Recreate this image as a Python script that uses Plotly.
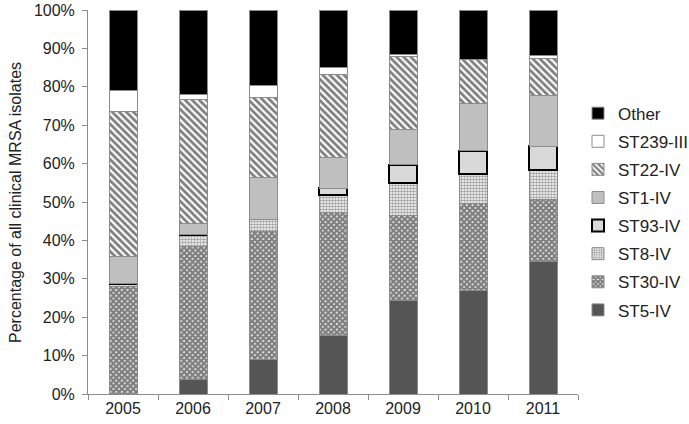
import plotly.graph_objects as go

years = ["2005", "2006", "2007", "2008", "2009", "2010", "2011"]

st5_iv = [0.0, 3.9, 9.1, 15.2, 24.4, 27.0, 34.4]
st30_iv = [27.9, 34.5, 33.2, 32.0, 22.1, 22.7, 16.2]
st8_iv = [0.8, 3.1, 3.2, 4.7, 8.4, 7.6, 7.8]
st93_iv = [0.0, 0.0, 0.0, 1.7, 4.8, 6.1, 6.1]
st1_iv = [7.2, 2.8, 10.8, 7.9, 9.1, 12.3, 13.2]
st22_iv = [37.7, 32.3, 20.8, 21.6, 19.1, 11.5, 9.8]
st239_iii = [5.4, 1.5, 3.2, 1.9, 0.6, 0.0, 0.6]
other = [21.0, 21.9, 19.7, 15.0, 11.5, 12.8, 11.9]

series = [
    ("ST5-IV", st5_iv),
    ("ST30-IV", st30_iv),
    ("ST8-IV", st8_iv),
    ("ST93-IV", st93_iv),
    ("ST1-IV", st1_iv),
    ("ST22-IV", st22_iv),
    ("ST239-III", st239_iii),
    ("Other", other),
]

edge = dict(color="#8c8c8c", width=1)

# fill styles, bottom to top
styles = {
    "ST5-IV": dict(color="#555555", line=edge),
    "ST30-IV": dict(color="white", line=edge,
                    pattern=dict(shape="x", fgcolor="black", bgcolor="white",
                                 size=4, solidity=0.85, fillmode="overlay")),
    "ST8-IV": dict(color="white", line=edge,
                   pattern=dict(shape=".", fgcolor="#404040", bgcolor="white",
                                size=3, solidity=0.55, fillmode="overlay")),
    "ST93-IV": dict(color="#d9d9d9", line=dict(color="black", width=2)),
    "ST1-IV": dict(color="#bfbfbf", line=edge),
    "ST22-IV": dict(color="white", line=edge,
                    pattern=dict(shape="\\", fgcolor="black", bgcolor="white",
                                 size=5, solidity=0.55, fillmode="overlay")),
    "ST239-III": dict(color="white", line=edge),
    "Other": dict(color="black", line=edge),
}

fig = go.Figure()
for i, (name, vals) in enumerate(series):
    fig.add_trace(go.Bar(
        x=years, y=vals, name=name, marker=styles[name],
        legendgroup=name, legendrank=len(series) - i,
    ))

font_family = "Arial, Liberation Sans, sans-serif"

fig.update_layout(
    barmode="stack",
    bargap=0.6,
    width=689, height=424,
    margin=dict(l=88, r=111, t=10, b=30, autoexpand=False),
    plot_bgcolor="white", paper_bgcolor="white",
    font=dict(family=font_family, size=16, color="#222"),
    legend=dict(
        traceorder="grouped", x=1.0, y=0.777, yanchor="top",
        font=dict(size=17, color="#222"), tracegroupgap=3,
        itemwidth=30,
    ),
    yaxis=dict(
        range=[0, 100], tickvals=list(range(0, 101, 10)),
        ticktext=[f"{v}%" for v in range(0, 101, 10)],
        showgrid=False, showline=True, linecolor="#8c8c8c", linewidth=1,
        ticks="outside", ticklen=5, tickcolor="#8c8c8c",
        zeroline=False, automargin=False, tickfont=dict(size=16),
        ticklabelstandoff=4,
    ),
    xaxis=dict(
        showline=True, linecolor="#8c8c8c", linewidth=1,
        ticks="outside", ticklen=5, tickcolor="#8c8c8c",
        tickson="boundaries", showgrid=False, automargin=False,
        tickfont=dict(size=16),
    ),
    annotations=[dict(
        text="Percentage of all clinical MRSA isolates",
        xref="paper", yref="paper", x=-0.149, y=0.5,
        xanchor="center", yanchor="middle", textangle=-90,
        showarrow=False, font=dict(size=16, color="#222"),
    )],
)

# drop the browser's default body margin so the figure sits at the page corner
fig.write_html("out.html", config={"displayModeBar": False},
               post_script="document.body.style.margin='0';")
